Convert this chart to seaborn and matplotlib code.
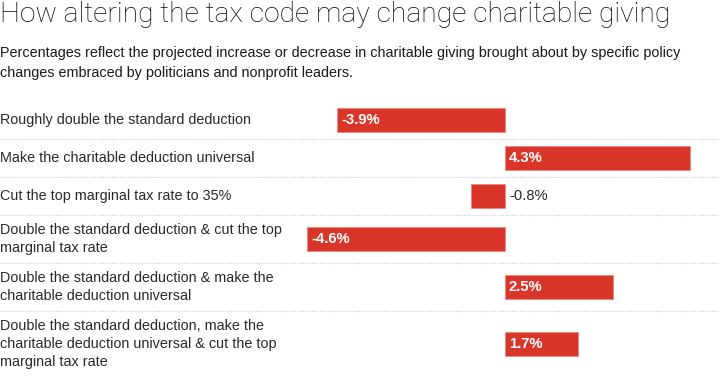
import seaborn as sns
import matplotlib.pyplot as plt

# ------------------------------
# Data
# ------------------------------
policies = [
    "Roughly double the standard deduction",
    "Make the charitable deduction universal",
    "Cut the top marginal tax rate to 35%",
    "Double the standard deduction & cut the top\nmarginal tax rate",
    "Double the standard deduction & make the\ncharitable deduction universal",
    "Double the standard deduction, make the\ncharitable deduction universal & cut the top\nmarginal tax rate",
]
change_pct = [-3.9, 4.3, -0.8, -4.6, 2.5, 1.7]
value_labels = ["-3.9%", "4.3%", "-0.8%", "-4.6%", "2.5%", "1.7%"]

title = "How altering the tax code may change charitable giving"
subtitle = ("Percentages reflect the projected increase or decrease in charitable giving brought about by specific policy\n"
            "changes embraced by politicians and nonprofit leaders.")

# ------------------------------
# Layout (pixel units)
# ------------------------------
W, H = 720, 381
ZERO_PX = 505
PX_PER_PCT = 43.0
BAR_H = 24
row_height = {1: 38, 2: 48, 3: 66}

tops = []
y = 101
for p in policies:
    tops.append(y)
    y += row_height[p.count("\n") + 1]
bottoms = tops[1:] + [y]
centers = [(t + b) / 2 for t, b in zip(tops, bottoms)]

RED = "#d9352a"
FONT = "Liberation Sans"

sns.set_theme(style="white")
plt.rcParams["font.family"] = [FONT, "DejaVu Sans"]

fig = plt.figure(figsize=(W / 100, H / 100), dpi=100)
ax = fig.add_axes([0, 0, 1, 1])

sns.barplot(x=change_pct, y=centers, orient="y", native_scale=True,
            width=BAR_H / 38, color=RED, saturation=1,
            edgecolor="#f0877d", linewidth=0.6, ax=ax)

ax.set_xlim(-ZERO_PX / PX_PER_PCT, (W - ZERO_PX) / PX_PER_PCT)
ax.set_ylim(H, 0)
ax.axis("off")

# dotted separators between rows
for b in bottoms[:-1]:
    ax.axhline(b, color="#c8c8c8", lw=0.8, ls=(0, (1, 1.5)))

# row labels
for p, c in zip(policies, centers):
    ax.text(0, c, p, transform=ax.get_yaxis_transform(), ha="left", va="center",
            fontsize=10.4, color="#2a2a2a", linespacing=1.32)

# value labels
pad = 4 / PX_PER_PCT
for v, lab, c in zip(change_pct, value_labels, centers):
    if abs(v) < 1:
        ax.text(pad, c, lab, ha="left", va="center", fontsize=10.6, color="#2a2a2a")
    else:
        x0 = min(v, 0) + pad
        ax.text(x0, c, lab, ha="left", va="center", fontsize=10.6,
                color="white", fontweight="bold")

fig.text(0, 1 - 1 / H, title, ha="left", va="top", fontsize=20.3,
         color="#0a0a0a", family=["Roboto", FONT], fontweight="light")
fig.text(0, 1 - 46 / H, subtitle, ha="left", va="top", fontsize=10.4,
         color="#1a1a1a", linespacing=1.52)

fig.savefig("out.png", dpi=100)
